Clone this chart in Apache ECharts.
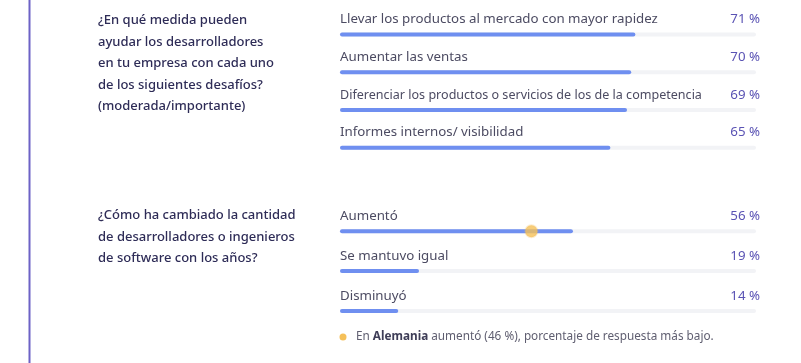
<!DOCTYPE html>
<html><head><meta charset="utf-8">
<script src="https://cdn.jsdelivr.net/npm/echarts@6/dist/echarts.min.js"></script>
<style>html,body{margin:0;padding:0;background:#fff}#c{width:801px;height:363px}</style>
</head><body><div id="c"></div>
<script>
var q1Lines = ['¿En qué medida pueden', 'ayudar los desarrolladores', 'en tu empresa con cada uno', 'de los siguientes desafíos?', '(moderada/importante)'];
var q1Cats = ['Llevar los productos al mercado con mayor rapidez', 'Aumentar las ventas', 'Diferenciar los productos o servicios de los de la competencia', 'Informes internos/ visibilidad'];
var q1Vals = [71, 70, 69, 65];
var q2Lines = ['¿Cómo ha cambiado la cantidad', 'de desarrolladores o ingenieros', 'de software con los años?'];
var q2Cats = ['Aumentó', 'Se mantuvo igual', 'Disminuyó'];
var q2Vals = [56, 19, 14];
var markerCat = 'Aumentó';
var markerVal = 46;
var noteParts = ['En ', 'Alemania', ' aumentó (46 %), porcentaje de respuesta más bajo.'];

var FONT = '"Noto Sans", "Open Sans", sans-serif';
var BAR = '#6f8ff0', TRACK = '#f2f3f6', LBL = '#4c4b62', PCT = '#5a53b4', Q = '#2e2c57';
var LABEL_MAX_W = 362;

// shrink a label's font only when it would be too wide (as in the original layout)
var measureCtx = document.createElement('canvas').getContext('2d');
function fitSize(text, base) {
  measureCtx.font = base + 'px "Noto Sans"';
  var w = measureCtx.measureText(text).width;
  return w > LABEL_MAX_W ? base * LABEL_MAX_W / w : base;
}

function trackSeries(idx, cats, vals) {
  return {
    type: 'bar', xAxisIndex: idx, yAxisIndex: idx, barWidth: 4, barGap: '-100%', silent: true,
    data: cats.map(function () { return 100; }),
    itemStyle: { color: TRACK, borderRadius: 2 },
    label: {
      show: true, position: ['100%', -13], align: 'right', verticalAlign: 'middle', offset: [4, 0],
      fontFamily: FONT, fontSize: 13.3, color: PCT,
      formatter: function (p) { return vals[p.dataIndex] + ' %'; }
    },
    z: 1
  };
}
function barSeries(idx, cats, vals) {
  return {
    type: 'bar', xAxisIndex: idx, yAxisIndex: idx, barWidth: 4, barGap: '-100%', silent: true,
    data: vals.map(function (v, i) {
      return { value: v, label: { fontSize: fitSize(cats[i], 13.3) } };
    }),
    itemStyle: { color: BAR, borderRadius: 2 },
    label: {
      show: true, position: [0, -13], align: 'left', verticalAlign: 'middle',
      fontFamily: FONT, fontSize: 13.3, color: LBL,
      formatter: function (p) { return cats[p.dataIndex]; }
    },
    z: 2
  };
}
function xAx(i) { return { gridIndex: i, type: 'value', min: 0, max: 100, show: false }; }
function yAx(i, cats) { return { gridIndex: i, type: 'category', data: cats, inverse: true, show: false }; }

function textBlock(lines, top) {
  return {
    type: 'text', left: 98, top: top,
    style: { text: lines.join('\n'), fontFamily: FONT, fontSize: 13, fontWeight: 500, fill: Q, lineHeight: 21.5 }
  };
}

var chart = echarts.init(document.getElementById('c'));
chart.setOption({
  animation: false,
  grid: [
    { left: 340, width: 416, top: 15.7, height: 150.8 },
    { left: 340, width: 416, top: 211.4, height: 119.4 }
  ],
  xAxis: [xAx(0), xAx(1)],
  yAxis: [yAx(0, q1Cats), yAx(1, q2Cats)],
  series: [
    trackSeries(0, q1Cats, q1Vals), barSeries(0, q1Cats, q1Vals),
    trackSeries(1, q2Cats, q2Vals), barSeries(1, q2Cats, q2Vals),
    {
      type: 'scatter', xAxisIndex: 1, yAxisIndex: 1, symbolSize: 12, silent: true, z: 5,
      data: [[markerVal, markerCat]],
      itemStyle: { color: '#f5c059', borderColor: 'rgba(245,192,89,0.35)', borderWidth: 2 }
    }
  ],
  graphic: [
    { type: 'rect', shape: { x: 28.5, y: 0, width: 2, height: 363 }, style: { fill: '#6d62c6' } },
    textBlock(q1Lines, 10),
    textBlock(q2Lines, 205),
    { type: 'circle', shape: { cx: 343, cy: 337, r: 3.5 }, style: { fill: '#f5c059' } },
    {
      type: 'text', left: 356, top: 331,
      style: {
        text: '{n|' + noteParts[0] + '}{b|' + noteParts[1] + '}{n|' + noteParts[2] + '}',
        rich: {
          n: { fontFamily: FONT, fontSize: 11.75, fill: '#5f5e70', color: '#5f5e70' },
          b: { fontFamily: FONT, fontSize: 11.75, fontWeight: 'bold', fill: '#3e3d57', color: '#3e3d57' }
        }
      }
    }
  ]
});
</script></body></html>
